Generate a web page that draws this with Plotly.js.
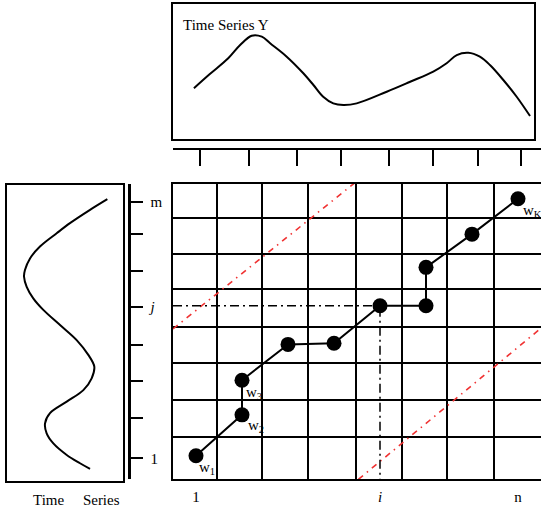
<!DOCTYPE html>
<html>
<head>
<meta charset="utf-8">
<script src="https://cdn.plot.ly/plotly-3.0.1.min.js"></script>
<style>html,body{margin:0;padding:0;background:#fff;}#chart{width:541px;height:506px;}</style>
</head>
<body>
<div id="chart"></div>
<script>
// ---- Time series Y (top panel): time (0-100) and amplitude (0-100)
const seriesYTime = [5.8,10.2,15.3,18.6,21.8,24.6,26.9,31.5,36.1,38.9,41.6,44.4,47.2,50.9,59.2,65.7,72.1,75.8,78.6,81.8,85.0,87.8,91.5,95.2,98.9];
const seriesYValue = [37.6,48.1,59.8,69.6,76.5,75.8,70.9,61.0,48.7,40.0,31.3,26.4,25.2,26.4,35.0,42.4,49.9,56.1,62.2,63.9,61.0,54.8,43.7,31.3,17.0];

// ---- Time series X (left panel, drawn vertically): amplitude and time (0-100)
const seriesXValue = [86.7,71.7,54.3,42.8,28.3,19.7,15.3,14.5,16.8,22.5,31.2,45.7,60.1,70.2,75.4,73.1,65.9,51.5,37.0,32.7,34.1,39.9,51.5,63.0,71.7];
const seriesXTime  = [95.2,91.6,87.1,83.7,79.2,75.2,71.3,69.0,65.6,61.7,57.8,52.7,47.6,42.6,38.6,34.7,30.7,26.8,22.9,19.5,16.1,12.7,8.8,6.0,4.1];

// ---- Cost matrix grid (column index 1..n, row index 1..m)
const colLines = [1.45,2.43,3.43,4.47,5.48,6.45,7.48];
const rowLines = [1.63,2.64,3.64,4.63,5.65,6.61,7.59];

// ---- Warping path
const pathI = [1,2,2,3,4,5,6,6,7,8];
const pathJ = [1.13,2.24,3.18,4.15,4.18,5.2,5.2,6.24,7.14,8.1];
const pathLabels = ['w<sub>1</sub>','w<sub>2</sub>','w<sub>3</sub>','','','','','','','w<sub>K</sub>'];
const markedPoint = 5; // the (i, j) element highlighted

// ---- Warping window (band) boundaries
const bandUpperX = [0.5,4.47];
const bandUpperY = [4.57,8.55];
const bandLowerX = [4.53,8.5];
const bandLowerY = [0.49,4.59];

// ---- Axis ticks / labels
const bottomTickVals = [1,5,8];
const bottomTickText = ['1','<i>i</i>','n'];
const leftTickVals = [1.06,2.15,3.17,4.13,5.17,6.14,7.14,8.02];
const leftLabelVals = [1.06,5.17,8.02];
const leftLabelText = ['1','<i>j</i>','m'];
const topTickVals = [1.09,2.16,3.19,4.15,5.2,6.16,7.12,8.07];

const SERIF = 'Liberation Serif, Times New Roman, serif';
const W = 541, H = 506;
const px = v => v / W;
const py = v => (H - v) / H;

const iX = pathI[markedPoint], jY = pathJ[markedPoint];

const traces = [
  {x: seriesYTime, y: seriesYValue, xaxis: 'x2', yaxis: 'y2', mode: 'lines',
   line: {color: '#000', width: 2, shape: 'spline', smoothing: 1}, hoverinfo: 'skip'},
  {x: seriesXValue, y: seriesXTime, xaxis: 'x3', yaxis: 'y3', mode: 'lines',
   line: {color: '#000', width: 2, shape: 'spline', smoothing: 1}, hoverinfo: 'skip'},
  // invisible anchors so the ruler axes are drawn
  {x: topTickVals, y: topTickVals, xaxis: 'x4', yaxis: 'y', mode: 'markers', marker: {opacity: 0}, hoverinfo: 'skip'},
  {x: leftTickVals, y: leftTickVals, xaxis: 'x', yaxis: 'y4', mode: 'markers', marker: {opacity: 0}, hoverinfo: 'skip'},
  {x: bandUpperX, y: bandUpperY, mode: 'lines', line: {color: '#f03232', width: 1.6, dash: '6px,5px,1.5px,5px'}, hoverinfo: 'skip'},
  {x: bandLowerX, y: bandLowerY, mode: 'lines', line: {color: '#f03232', width: 1.6, dash: '6px,5px,1.5px,5px'}, hoverinfo: 'skip'},
  {x: [0.5, iX, iX], y: [jY, jY, 0.5], mode: 'lines', line: {color: '#000', width: 1.5, dash: '9px,4px,2px,4px'}, hoverinfo: 'skip'},
  {x: pathI, y: pathJ, mode: 'lines+markers',
   line: {color: '#000', width: 2}, marker: {color: '#000', size: 15}, hoverinfo: 'skip'}
];

const labelShift = {0: [1, -1], 1: [4, 0], 2: [2, -2], 9: [3, -1]};
const pathAnnotations = pathLabels.map((t, k) => t ? {
  text: t, x: pathI[k], y: pathJ[k], xref: 'x', yref: 'y', xanchor: 'left', yanchor: 'top',
  xshift: labelShift[k][0], yshift: labelShift[k][1], showarrow: false,
  font: {family: SERIF, size: 15, color: '#000'}
} : null).filter(Boolean);

const layout = {
  width: W, height: H, margin: {l: 0, r: 0, t: 0, b: 0},
  paper_bgcolor: '#fff', plot_bgcolor: 'rgba(0,0,0,0)', showlegend: false,
  font: {family: SERIF, color: '#000', size: 15},
  xaxis: {domain: [px(173), 1], range: [0.5, 8.5], anchor: 'y', showline: true, mirror: true,
          linecolor: '#000', linewidth: 2, zeroline: false, showgrid: false, ticks: '',
          tickmode: 'array', tickvals: bottomTickVals, ticktext: bottomTickText,
          tickfont: {family: SERIF, size: 15}, ticklabelstandoff: 3,
          minor: {tickmode: 'array', tickvals: colLines, showgrid: true, gridcolor: '#000', gridwidth: 2, ticks: ''}},
  yaxis: {domain: [py(479), py(184)], range: [0.5, 8.5], anchor: 'x', showline: true, mirror: false,
          linecolor: '#000', linewidth: 2, zeroline: false, showgrid: false, ticks: '', showticklabels: false,
          minor: {tickmode: 'array', tickvals: rowLines, showgrid: true, gridcolor: '#000', gridwidth: 2, ticks: ''}},
  xaxis4: {overlaying: 'x', anchor: 'free', position: py(149), side: 'bottom', range: [0.5, 8.5],
           showline: true, linecolor: '#000', linewidth: 2, zeroline: false, showgrid: false,
           ticks: 'outside', ticklen: 16, tickwidth: 2, tickcolor: '#000',
           tickmode: 'array', tickvals: topTickVals, showticklabels: false},
  yaxis4: {overlaying: 'y', anchor: 'free', position: px(129), side: 'right', range: [0.5, 8.5],
           showline: true, linecolor: '#000', linewidth: 2.5, zeroline: false, showgrid: false,
           ticks: 'outside', ticklen: 12, tickwidth: 2, tickcolor: '#000',
           tickmode: 'array', tickvals: leftLabelVals, ticktext: leftLabelText,
           tickfont: {family: SERIF, size: 15}, ticklabelstandoff: 5,
           minor: {tickmode: 'array', tickvals: leftTickVals, ticks: 'outside', ticklen: 12, tickwidth: 2, tickcolor: '#000', showgrid: false}},
  xaxis2: {domain: [px(173), px(534)], range: [0, 100], anchor: 'y2', showline: true, mirror: true,
           linecolor: '#000', linewidth: 2, zeroline: false, showgrid: false, ticks: '', showticklabels: false},
  yaxis2: {domain: [py(139), py(4)], range: [0, 100], anchor: 'x2', showline: true, mirror: true,
           linecolor: '#000', linewidth: 2, zeroline: false, showgrid: false, ticks: '', showticklabels: false},
  xaxis3: {domain: [px(7.3), px(122.7)], range: [0, 100], anchor: 'y3', showline: true, mirror: true,
           linecolor: '#000', linewidth: 2, zeroline: false, showgrid: false, ticks: '', showticklabels: false},
  yaxis3: {domain: [py(481), py(185)], range: [0, 100], anchor: 'x3', showline: true, mirror: true,
           linecolor: '#000', linewidth: 2, zeroline: false, showgrid: false, ticks: '', showticklabels: false},
  annotations: [
    {text: 'Time Series Y', xref: 'paper', yref: 'paper', x: px(181), y: py(25), xanchor: 'left', yanchor: 'middle',
     showarrow: false, font: {family: SERIF, size: 15, color: '#000'}},
    {text: 'Time\u00a0\u00a0\u00a0\u00a0\u00a0Series', xref: 'paper', yref: 'paper', x: px(76), y: py(490), xanchor: 'center', yanchor: 'top',
     showarrow: false, font: {family: SERIF, size: 15, color: '#000'}}
  ].concat(pathAnnotations)
};

Plotly.newPlot('chart', traces, layout, {staticPlot: true, displayModeBar: false});
</script>
</body>
</html>
